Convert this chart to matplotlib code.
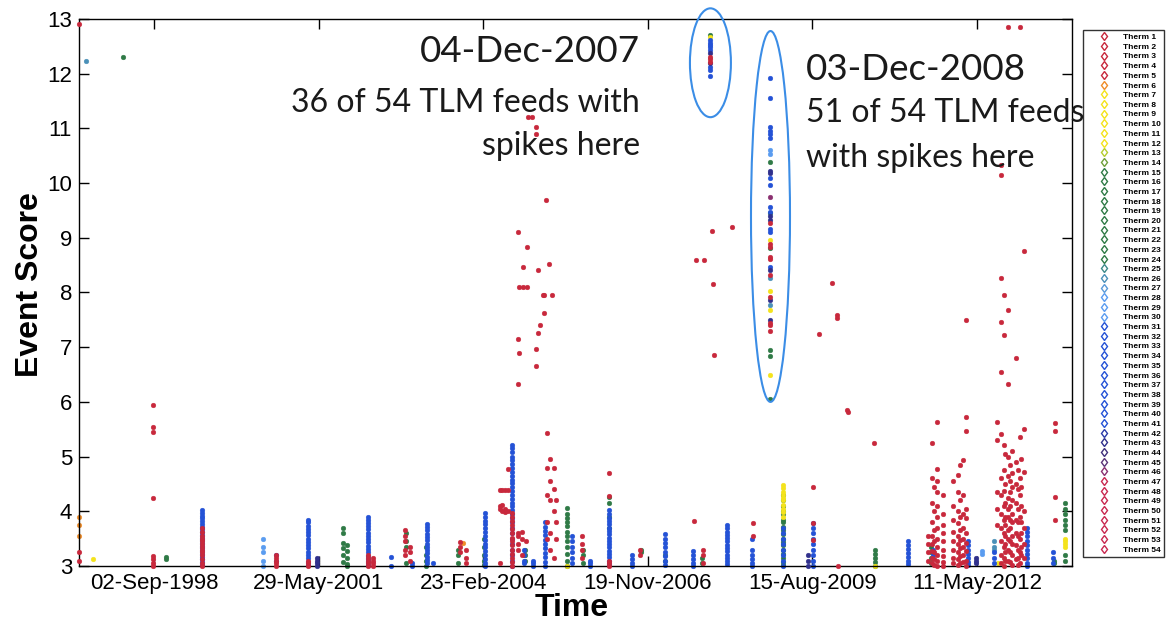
import pandas as pd
import matplotlib
matplotlib.use('Agg')
import matplotlib.pyplot as plt
import matplotlib.dates as mdates
from matplotlib.patches import Ellipse
from matplotlib.lines import Line2D

# colour of each of the 54 thermistor feeds
therm_colors = (['#c8283c'] * 5 + ['#f08c28'] + ['#f4e31c'] * 6 + ['#b4cc30', '#6f9e3a']
                + ['#2f7a46'] * 10 + ['#3d8a8a', '#4a90b8', '#5a9ad8'] + ['#5a9cf0'] * 3
                + ['#2452d6'] * 11 + ['#2a3aa8', '#30308c', '#40307c', '#5a3478']
                + ['#8a3070'] + ['#c82850'] * 8)
therm_labels = [f'Therm {i}' for i in range(1, 55)]

xtick_dates = ['1998-09-02', '2001-05-29', '2004-02-23', '2006-11-19', '2009-08-15', '2012-05-11']

# event scores grouped by feed family: one list of scores per event date
green_dates = ['1998-02-26', '1998-11-14', '2001-10-25', '2001-11-15', '2002-11-10', '2003-03-10',
               '2003-09-25', '2004-02-25', '2004-11-01', '2005-07-16', '2005-10-20', '2006-03-28',
               '2006-10-10', '2007-03-03', '2007-10-15', '2009-02-17', '2010-08-30', '2011-08-05',
               '2013-08-20', '2013-10-27', '2007-12-04', '2008-12-03']
green_scores = [[12.3], [3.17, 3.13], [3.7, 3.6, 3.42, 3.33, 3.2, 3.08], [3.38, 3.28, 3.15, 3.03, 3.0],
                [3.6, 3.45, 3.35, 3.05], [3.35, 3.2, 3.1, 3.0],
                [3.3, 3.2, 3.05], [3.5, 3.35, 3.2, 3.1, 3.02], [3.3, 3.2, 3.1],
                [4.06, 3.95, 3.88, 3.8, 3.73, 3.62, 3.55, 3.45, 3.35, 3.22, 3.1, 3.0],
                [3.3, 3.2, 3.05], [4.27, 4.15, 3.9, 3.7], [3.3, 3.25], [3.2, 3.1], [3.15, 3.05],
                [4.3, 4.2, 4.1, 4.0, 3.95, 3.85, 3.8, 3.72, 3.65, 3.58, 3.5, 3.44, 3.38, 3.3, 3.22,
                 3.15, 3.08, 3.02],
                [3.3, 3.22, 3.15, 3.08, 3.0], [3.35, 3.25, 3.15, 3.05], [3.1, 3.05],
                [4.15, 4.05, 3.95, 3.85, 3.75, 3.65, 3.2, 3.1],
                [12.71], [10.39, 9.45, 8.81, 6.94, 6.84, 6.05]]

yellow_dates = ['1997-08-27', '2005-07-16', '2009-02-17', '2010-08-30', '2012-09-15', '2013-10-27',
                '2007-12-04', '2008-12-03']
yellow_scores = [[3.13], [3.0], [4.48, 4.42, 4.36, 4.3, 4.25, 4.2, 4.12, 4.05, 3.98, 3.9], [3.0],
                 [3.05], [3.5, 3.45, 3.4, 3.35], [12.67], [8.96, 8.03, 7.68, 6.49]]

orange_dates = ['1997-06-03', '2003-10-20']
orange_scores = [[3.9, 3.75, 3.55], [3.42]]

lightblue_dates = ['2000-06-25', '2012-06-10', '2008-12-03']
lightblue_scores = [[3.5, 3.35, 3.25, 3.1, 3.0], [3.28, 3.22], [10.6, 10.54]]

teal_dates = ['1997-07-16', '2012-08-22', '2008-12-03']
teal_scores = [[12.23], [3.45, 3.35, 3.3], [8.26, 7.77]]

blue_dates = ['1999-06-21', '2000-09-12', '2001-03-26', '2002-03-25', '2002-08-12', '2002-12-15',
              '2003-03-18', '2003-04-24', '2004-03-05', '2004-08-16', '2004-10-25', '2004-12-20',
              '2005-03-04', '2005-08-15', '2005-12-03', '2006-03-28', '2006-08-15', '2007-03-03',
              '2007-08-20', '2008-03-14', '2008-08-13', '2009-02-17', '2009-08-18', '2011-03-18',
              '2011-08-20', '2012-03-17', '2012-08-22', '2013-03-10', '2013-08-15',
              '2007-12-04', '2008-12-03']
blue_scores = [[4.02, 3.97, 3.92, 3.87, 3.82, 3.77, 3.72, 3.67, 3.62, 3.57, 3.52, 3.47, 3.42, 3.37,
                3.32, 3.27, 3.22, 3.17, 3.12, 3.07, 3.02],
               [3.2, 3.1],
               [3.85, 3.8, 3.74, 3.68, 3.62, 3.56, 3.5, 3.44, 3.38, 3.32, 3.26, 3.2, 3.14, 3.08, 3.02],
               [3.9, 3.85, 3.79, 3.73, 3.67, 3.61, 3.55, 3.49, 3.43, 3.37, 3.31, 3.25, 3.19, 3.13,
                3.07, 3.01],
               [3.17, 3.0], [3.05, 3.0],
               [3.77, 3.71, 3.65, 3.59, 3.53, 3.47, 3.41, 3.35, 3.29, 3.23, 3.17, 3.11, 3.05],
               [3.05],
               [3.97, 3.9, 3.83, 3.76, 3.69, 3.62, 3.55, 3.48, 3.41, 3.34, 3.27, 3.2, 3.13, 3.06, 3.0],
               [5.21, 5.15, 5.08, 5.0, 4.93, 4.86, 4.79, 4.72, 4.65, 4.58, 4.51, 4.44, 4.37, 4.3,
                4.23, 4.16, 4.09, 4.02, 3.95, 3.88, 3.8, 3.7, 3.6, 3.5, 3.4, 3.3, 3.2, 3.1, 3.0],
               [3.3, 3.2, 3.1, 3.05], [3.1, 3.05, 3.0],
               [3.8, 3.72, 3.64, 3.56, 3.48, 3.4, 3.32, 3.24, 3.16, 3.08, 3.0],
               [3.55, 3.45, 3.35, 3.25, 3.15, 3.05], [3.1, 3.05, 3.0],
               [4.02, 3.95, 3.88, 3.82, 3.76, 3.7, 3.64, 3.58, 3.52, 3.46, 3.4, 3.34, 3.28, 3.22,
                3.16, 3.1, 3.04],
               [3.2, 3.12, 3.05, 3.0],
               [3.58, 3.5, 3.42, 3.34, 3.26, 3.18, 3.1, 3.02],
               [3.28, 3.2, 3.12, 3.05, 3.0],
               [3.75, 3.69, 3.63, 3.57, 3.51, 3.45, 3.39, 3.33, 3.27, 3.21, 3.15, 3.09, 3.03],
               [3.5, 3.3, 3.2, 3.12, 3.05, 3.0],
               [3.7, 3.6, 3.5, 3.4, 3.3, 3.2, 3.1, 3.0],
               [3.78, 3.7, 3.6, 3.5, 3.4, 3.3, 3.2, 3.1, 3.0],
               [3.45, 3.38, 3.31, 3.24, 3.17, 3.1, 3.03],
               [3.3, 3.2],
               [3.45, 3.38, 3.3, 3.22, 3.15, 3.08, 3.02],
               [3.25, 3.15, 3.05],
               [3.7, 3.62, 3.54, 3.46, 3.38, 3.3, 3.22, 3.14, 3.06, 3.0],
               [3.25, 3.15, 3.05],
               [12.62, 12.57, 12.53, 12.48, 12.43, 12.13, 12.06, 11.95],
               [11.93, 11.56, 11.03, 10.96, 10.89, 10.82, 10.09, 9.96, 9.57, 9.48, 9.17, 9.11, 8.47]]

navy_dates = ['2001-05-19', '2009-07-19', '2012-05-05', '2007-12-04', '2008-12-03']
navy_scores = [[3.15, 3.1, 3.05, 3.0], [3.2, 3.1, 3.0], [3.15, 3.1, 3.05], [12.37, 12.2],
               [10.22, 10.18, 9.39, 9.33, 8.41, 7.86, 7.5]]

magenta_dates = ['2008-12-03']
magenta_scores = [[9.75]]

red_dates = ['1997-06-03', '1998-08-27', '1999-06-21', '2000-09-12', '2001-03-26', '2002-03-27',
             '2002-04-24', '2002-11-05', '2002-12-05', '2003-10-05', '2003-11-10',
             '2004-06-01', '2004-06-15', '2004-07-04', '2004-07-23', '2004-08-16', '2004-09-21',
             '2004-10-16', '2004-11-10',
             '2004-09-19', '2004-09-27', '2004-10-21', '2004-11-15', '2004-11-20', '2004-12-15',
             '2005-01-09', '2005-01-21', '2005-02-02', '2005-02-21', '2005-02-27', '2005-03-10',
             '2005-03-29', '2005-04-16',
             '2005-03-16', '2005-04-05', '2005-04-25', '2005-05-10',
             '2005-10-15', '2006-03-28', '2006-10-02', '2007-08-26', '2007-10-20', '2008-08-19',
             '2007-09-08', '2007-10-26', '2007-12-14', '2007-12-20', '2007-12-26', '2008-04-13',
             '2009-08-18', '2009-09-24', '2009-12-12', '2010-01-11', '2010-01-17', '2010-03-13',
             '2010-03-19', '2010-08-24',
             '2011-07-15', '2011-08-11', '2011-08-25', '2011-09-11', '2011-10-17',
             '2011-12-17', '2012-01-16', '2012-01-30', '2012-02-16', '2012-03-05',
             '2012-09-09', '2012-10-05', '2012-10-22', '2012-10-30', '2012-11-15', '2012-11-28',
             '2012-12-09', '2013-01-03', '2013-01-15', '2013-01-27', '2013-02-05', '2013-02-20',
             '2013-08-28',
             '2007-12-04', '2008-12-03']
red_scores = [[12.9, 3.25, 3.1], [5.95, 5.55, 5.45, 4.25, 3.18, 3.12, 3.06, 3.0],
              [3.7, 3.62, 3.55, 3.5, 3.45, 3.4, 3.35, 3.3, 3.25, 3.2, 3.12, 3.05, 3.0],
              [3.2, 3.15, 3.1, 3.05, 3.0], [3.1, 3.05, 3.0], [3.2, 3.15, 3.1, 3.05, 3.0],
              [3.15, 3.1, 3.05, 3.0], [3.66, 3.55, 3.45, 3.3, 3.2], [3.35, 3.25, 3.1],
              [3.44, 3.35, 3.25], [3.3, 3.15, 3.05],
              [4.39, 4.1, 4.05, 3.05], [4.39, 4.0, 4.12], [4.39, 4.05, 3.98], [4.77, 4.39, 4.0],
              [3.97, 3.9, 3.82, 3.75, 3.68, 3.6, 3.52, 3.45, 3.38, 3.3, 3.22, 3.15, 3.08, 3.0],
              [7.15, 6.33, 3.6, 3.55, 3.4, 3.3], [3.62, 3.5, 3.2], [3.45],
              [9.11], [8.1, 6.89], [8.47, 8.1], [8.83, 8.1], [11.2], [11.2],
              [11.03, 10.9, 6.97, 6.66], [8.42, 7.26], [7.4], [7.95], [7.95, 7.63], [9.69],
              [8.52], [7.95],
              [5.43, 4.8, 4.3, 3.8, 3.5], [4.96, 4.55, 4.2, 3.6, 3.3], [4.8, 4.4, 4.0, 3.15],
              [4.2, 3.8, 3.5],
              [3.55, 3.4, 3.3, 3.15], [4.7, 4.28, 3.1, 3.05, 3.0], [3.3, 3.2], [3.82],
              [3.3, 3.2, 3.05], [3.79, 3.55],
              [8.6], [8.6], [9.12], [8.16], [6.85], [9.2],
              [4.45, 3.78, 3.47], [7.24], [8.17], [7.58, 7.53], [3.0], [5.85], [5.82], [5.25],
              [3.55, 3.4, 3.25, 3.1],
              [5.24, 4.6, 4.15, 3.8, 3.55, 3.4, 3.28, 3.15, 3.05],
              [4.45, 4.0, 3.65, 3.45, 3.25, 3.12, 3.02],
              [5.63, 4.77, 4.55, 4.35, 4.1, 3.9, 3.7, 3.5, 3.35, 3.2, 3.1, 3.0],
              [4.3, 3.95, 3.75, 3.6, 3.45, 3.3, 3.18, 3.08, 3.0],
              [4.56, 4.1, 3.85, 3.62, 3.45, 3.3, 3.15, 3.05],
              [4.66, 4.36, 4.0, 3.78, 3.55, 3.4, 3.25, 3.12, 3.02],
              [4.85, 4.2, 3.9, 3.65, 3.48, 3.32, 3.18, 3.06],
              [4.93, 4.3, 3.95, 3.7, 3.5, 3.35, 3.2, 3.08],
              [7.5, 5.72, 5.46, 4.05, 3.88, 3.6, 3.42, 3.28, 3.1, 3.0],
              [5.63, 5.3, 4.35, 4.05, 3.75],
              [10.33, 10.15, 8.27, 7.46, 6.55, 5.42, 4.6, 4.3, 3.95, 3.7, 3.45, 3.2, 3.05],
              [7.95, 7.22, 5.21, 4.75, 4.37, 4.1, 3.85, 3.6, 3.35, 3.15, 3.0],
              [5.05, 4.5, 4.15, 3.9, 3.75, 3.55, 3.4, 3.25, 3.1],
              [12.85, 7.68, 6.33, 5.0, 4.65, 4.25, 4.05, 3.9, 3.65, 3.5, 3.3, 3.1],
              [4.85, 4.55, 4.35, 4.1, 3.85, 3.7, 3.45, 3.25, 3.08],
              [5.1, 4.7, 4.45, 4.2, 3.95, 3.8, 3.55, 3.4, 3.2, 3.02],
              [6.8, 4.9, 4.5, 4.15, 3.85, 3.6, 3.38, 3.12],
              [4.75, 4.4, 4.05, 3.8, 3.55, 3.3, 3.15, 3.02],
              [12.85, 5.35, 4.6, 4.3, 3.9, 3.5, 3.25, 3.05],
              [4.95, 4.45, 4.1, 3.8, 3.6, 3.35, 3.2],
              [8.75, 5.5, 4.72, 4.0, 3.7, 3.4, 3.15],
              [5.62, 5.47, 4.26, 3.85],
              [12.31, 12.27, 12.22],
              [9.27, 8.88, 8.84, 8.65, 8.62, 8.32, 7.92, 7.45, 7.41, 7.3]]

plt.rcParams['font.family'] = ['Liberation Sans', 'DejaVu Sans']

fig = plt.figure(figsize=(11.66, 6.23), dpi=100)
ax = fig.add_axes([0.0678, 0.0915, 0.8516, 0.878])


def plot_family(dates, scores, therm, z):
    xs, ys = [], []
    for d, s in zip(dates, scores):
        xs += [pd.Timestamp(d)] * len(s)
        ys += s
    ax.plot(xs, ys, 'o', ms=3.4, color=therm_colors[therm - 1], mew=0.3,
            zorder=z, clip_on=False)


plot_family(green_dates, green_scores, 17, 2.0)
plot_family(yellow_dates, yellow_scores, 9, 2.1)
plot_family(orange_dates, orange_scores, 6, 2.2)
plot_family(lightblue_dates, lightblue_scores, 29, 2.3)
plot_family(teal_dates, teal_scores, 26, 2.4)
plot_family(blue_dates, blue_scores, 35, 2.5)
plot_family(navy_dates, navy_scores, 43, 2.6)
plot_family(magenta_dates, magenta_scores, 46, 2.7)
plot_family(red_dates, red_scores, 1, 2.8)

# rings around the two multi-feed events
ring_color = '#3b8de6'
ax.add_patch(Ellipse((mdates.date2num(pd.Timestamp('2007-12-04')), 12.2), 249, 1.99,
                     fill=False, ec=ring_color, lw=1.5, clip_on=False, zorder=5))
ax.add_patch(Ellipse((mdates.date2num(pd.Timestamp('2008-12-03')), 9.39), 237, 6.78,
                     fill=False, ec=ring_color, lw=1.5, clip_on=False, zorder=5))

ax.set_xlim(pd.Timestamp('1997-06-03'), pd.Timestamp('2013-12-09'))
ax.set_ylim(3, 13)
ax.set_yticks(range(3, 14))
ax.set_xticks([pd.Timestamp(d) for d in xtick_dates])
ax.xaxis.set_major_formatter(mdates.DateFormatter('%d-%b-%Y'))
ax.tick_params(direction='in', length=7, width=1, top=True, right=True,
               labelsize=16, pad=5)
for sp in ax.spines.values():
    sp.set_linewidth(1.0)

fig.text(0.026, 0.5425, 'Event Score', rotation=90, fontsize=23, fontweight='bold',
         ha='center', va='center')
fig.text(0.4905, 0.024, 'Time', fontsize=23, fontweight='bold', ha='center', va='center')

note_font = ['Lato', 'DejaVu Sans']
note_color = '#1a1a1a'
fig.text(0.549, 0.918, '04-Dec-2007', fontsize=26.5, family=note_font, ha='right', va='center',
         color=note_color, zorder=10)
fig.text(0.549, 0.835, '36 of 54 TLM feeds with', fontsize=23, family=note_font, ha='right',
         va='center', color=note_color, zorder=10)
fig.text(0.549, 0.765, 'spikes here', fontsize=23, family=note_font, ha='right', va='center',
         color=note_color, zorder=10)
fig.text(0.691, 0.889, '03-Dec-2008', fontsize=26.5, family=note_font, ha='left', va='center',
         color=note_color, zorder=10)
fig.text(0.691, 0.819, '51 of 54 TLM feeds', fontsize=23, family=note_font, ha='left',
         va='center', color=note_color, zorder=10)
fig.text(0.691, 0.747, 'with spikes here', fontsize=23, family=note_font, ha='left',
         va='center', color=note_color, zorder=10)

handles = [Line2D([], [], ls='none', marker='d', ms=4.5, mfc='none', mec=c, mew=1.0)
           for c in therm_colors]
leg = fig.legend(handles, therm_labels, loc='upper left',
                 bbox_to_anchor=(1083 / 1166, 1 - 30 / 623), bbox_transform=fig.transFigure,
                 prop={'weight': 'bold', 'size': 6}, frameon=True,
                 fancybox=False, edgecolor='black', labelspacing=0.22, handlelength=4.2,
                 handletextpad=0.2, borderpad=0.4, borderaxespad=0)
leg.get_frame().set_linewidth(1.0)
leg.set_zorder(1)

fig.savefig('out.png', dpi=100)
